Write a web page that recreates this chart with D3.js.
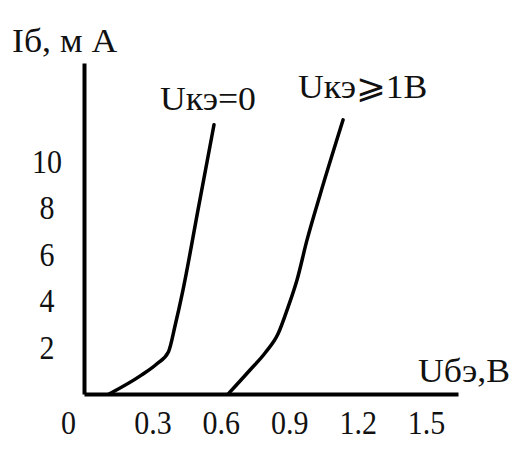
<!DOCTYPE html>
<html>
<head>
<meta charset="utf-8">
<title>Входная характеристика</title>
<script src="https://cdn.jsdelivr.net/npm/d3@7"></script>
<style type="text/css">
    body { margin: 0; background: #fff; }
    text {
        font-family: "Liberation Serif", "DejaVu Serif", serif;
        fill: #111;
    }
    .axis path { stroke: #000; stroke-width: 4px; }
    .curve {
        fill: none;
        stroke: #000;
        stroke-width: 3.5px;
        stroke-linejoin: round;
        stroke-linecap: round;
    }
</style>
</head>
<body>
<script type="text/javascript">

// data
var ubeZero = [0.11, 0.25, 0.32, 0.37, 0.40, 0.434, 0.50, 0.57];   // Uкэ=0
var ibZero  = [0,    0.8,  1.3,  1.8,  2.96, 4.46,  7.9,  11.55];
var ubeOne  = [0.632, 0.728, 0.794, 0.851, 0.895, 0.934, 0.978, 1.035, 1.136]; // Uкэ>=1В
var ibOne   = [0,     1.03,  1.76,  2.58,  3.73,  4.89,  6.61,  8.54,  11.76];
var xTicks = [0, 0.3, 0.6, 0.9, 1.2, 1.5];
var yTicks = [2, 4, 6, 8, 10];
var curveLabels = ["Uкэ=0", "Uкэ⩾1В"];

var width = 520,
    height = 450;

var svg = d3.select("body").append("svg")
    .attr("width", width)
    .attr("height", height);

var x = d3.scaleLinear().domain([0, 1.64]).range([84, 458]);
var y = d3.scaleLinear().domain([0, 14.2]).range([394, 63]);

// y axis
var gy = svg.append("g")
    .attr("class", "axis")
    .attr("transform", "translate(" + x(0) + ",0)")
    .call(d3.axisLeft(y).tickValues(yTicks).tickSize(0).tickSizeOuter(0));
gy.selectAll(".tick text")
    .attr("x", -37)
    .attr("text-anchor", "middle")
    .attr("dy", "0.33em");

// x axis
var gx = svg.append("g")
    .attr("class", "axis")
    .attr("transform", "translate(0," + y(0) + ")")
    .call(d3.axisBottom(x).tickValues(xTicks).tickFormat(d3.format("")).tickSize(0).tickSizeOuter(0));
gx.select(".domain").attr("stroke-width", 3);
gx.selectAll(".tick text")
    .attr("y", 35)
    .attr("dy", 0)
    .attr("x", function (d) { return d === 0 ? -16 : 0; });
svg.selectAll(".axis text")
    .style("font-size", "30px")
    .attr("fill", "#111")
    .attr("transform", "scale(1,1.13)");

// curves
var line = d3.line()
    .x(function (d) { return x(d[0]); })
    .y(function (d) { return y(d[1]); })
    .curve(d3.curveMonotoneX);

var series = [d3.zip(ubeZero, ibZero), d3.zip(ubeOne, ibOne)];
svg.selectAll(".curve")
    .data(series).enter()
    .append("path")
    .attr("class", "curve")
    .attr("d", line);

// labels
function label(px, py, txt) {
    svg.append("text")
        .attr("transform", "translate(" + px + "," + py + ") scale(1.05,1)")
        .style("font-size", "34px")
        .text(txt);
}
label(12, 52, "Iб, м А");
label(418, 382, "Uбэ,В");
label(160, 110, curveLabels[0]);
label(298, 98, curveLabels[1]);

</script>
</body>
</html>
